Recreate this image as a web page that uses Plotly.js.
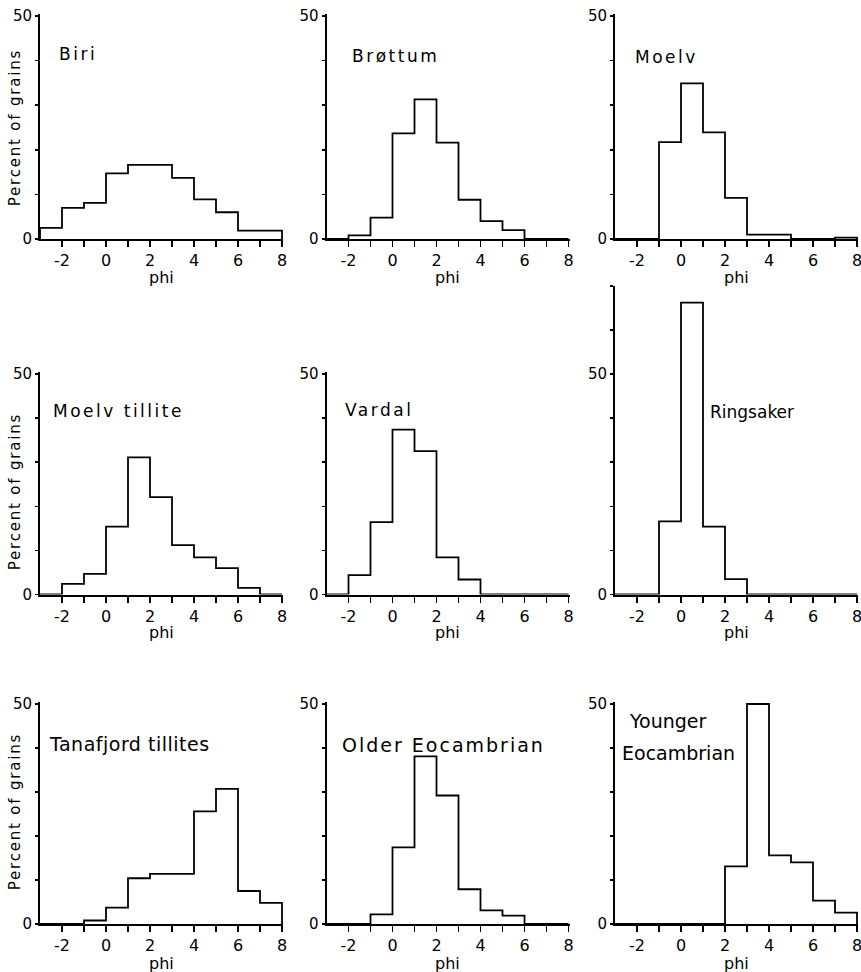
<!DOCTYPE html>
<html>
<head>
<meta charset="utf-8">
<script src="https://cdn.plot.ly/plotly-3.0.1.min.js"></script>
<style>
  html, body { margin: 0; padding: 0; background: #fff; }
  #chart { width: 861px; height: 972px; }
</style>
</head>
<body>
<div id="chart"></div>
<script>
// ---------- DATA ----------
// left edges of the 1-phi size classes
const phiEdges = [-3, -2, -1, 0, 1, 2, 3, 4, 5, 6, 7];
const phiMax = 8;
const xTickVals = [-2, -1, 0, 1, 2, 3, 4, 5, 6, 7, 8];
const xTickText = ['-2', '', '0', '', '2', '', '4', '', '6', '', '8'];
const panelNames = ['Biri', 'Brøttum', 'Moelv', 'Moelv tillite', 'Vardal', 'Ringsaker',
                    'Tanafjord tillites', 'Older Eocambrian', 'Younger Eocambrian'];
// percent of grains in each class
const biri         = [2.5, 7.0, 8.1, 14.7, 16.6, 16.6, 13.7, 8.9, 6.0, 1.9, 1.9];
const brottum      = [0, 0.8, 4.8, 23.7, 31.3, 21.6, 8.8, 4.0, 2.0, 0, 0];
const moelv        = [0, 0, 21.7, 34.9, 23.9, 9.2, 1.0, 1.0, 0, 0, 0.3];
const moelvTillite = [0, 2.4, 4.7, 15.4, 31.1, 22.1, 11.2, 8.4, 6.0, 1.5, 0];
const vardal       = [0, 4.4, 16.4, 37.4, 32.5, 8.4, 3.4, 0, 0, 0, 0];
const ringsaker    = [0, 0, 16.6, 66.2, 15.4, 3.5, 0, 0, 0, 0, 0];
const tanafjord    = [0, 0, 0.8, 3.7, 10.4, 11.4, 11.4, 25.6, 30.7, 7.5, 4.8];
const olderEo      = [0, 0, 2.2, 17.4, 38.1, 29.2, 7.9, 3.1, 1.9, 0, 0];
const youngerEo    = [0, 0, 0, 0, 0, 13.1, 50, 15.6, 14.0, 5.3, 2.6];
const yTop         = [50, 50, 50, 50, 50, 70, 50, 50, 50];
const yAxisTitle = 'Percent of grains';
const xAxisTitle = 'phi';

// ---------- LAYOUT GEOMETRY (pixels) ----------
const W = 861, H = 972;
const FONT = 'DejaVu Sans, sans-serif';
const colGeom = [[40, 22], [326.5, 22], [615, 22]];        // px of x=-3, px per phi
const rowGeom = [[239, 44.6], [594.5, 44.1], [924, 44]];    // px of y=0, px per 10 %
const series = [biri, brottum, moelv, moelvTillite, vardal, ringsaker, tanafjord, olderEo, youngerEo];

const px2x = p => p / W;
const px2y = p => 1 - p / H;

const traces = [];
const layout = {
  width: W, height: H,
  margin: {l: 0, r: 0, t: 0, b: 0},
  paper_bgcolor: '#fff', plot_bgcolor: 'rgba(0,0,0,0)',
  showlegend: false,
  font: {family: FONT, color: '#000'},
  annotations: []
};

series.forEach((vals, i) => {
  const n = i + 1;
  const row = Math.floor(i / 3), col = i % 3;
  const [x0, sx] = colGeom[col];
  const [y0, sy] = rowGeom[row];
  const xr = [-3, phiMax + 0.06];
  const yr = [0, yTop[i] === 50 ? 50.5 : yTop[i]];
  const xs = [phiEdges[0]].concat(phiEdges, [phiMax, phiMax]);
  const ys = [0].concat(vals, [vals[vals.length - 1], 0]);
  traces.push({
    type: 'scatter', mode: 'lines', x: xs, y: ys,
    line: {shape: 'hv', color: '#000', width: 1.8},
    xaxis: 'x' + n, yaxis: 'y' + n, hoverinfo: 'skip', showlegend: false
  });
  const yt = [];
  for (let v = 0; v <= yTop[i]; v += 10) yt.push(v);
  const ytt = yt.map(v => (v === 0 || v === 50) ? String(v) : '');
  layout['xaxis' + n] = {
    domain: [px2x(x0), px2x(x0 + (xr[1] - xr[0]) * sx)],
    range: xr, anchor: 'y' + n,
    showline: true, linecolor: '#000', linewidth: 2,
    ticks: 'outside', ticklen: 6, tickwidth: 1.5, tickcolor: '#000',
    tickmode: 'array', tickvals: xTickVals, ticktext: xTickText,
    ticklabeloverflow: 'allow',
    tickfont: {family: FONT, size: 16, color: '#000'},
    showgrid: false, zeroline: false, fixedrange: true
  };
  layout['yaxis' + n] = {
    domain: [px2y(y0), px2y(y0 - yr[1] * sy / 10)],
    range: yr, anchor: 'x' + n,
    showline: true, linecolor: '#000', linewidth: 2,
    ticks: 'outside', ticklen: 3, tickwidth: 1.5, tickcolor: '#000',
    tickmode: 'array', tickvals: yt, ticktext: ytt,
    ticklabeloverflow: 'allow',
    tickfont: {family: FONT, size: 15, color: '#000'},
    showgrid: false, zeroline: false, fixedrange: true
  };
  // phi label under each panel
  const phiY = [277, 632, 963][row];
  layout.annotations.push({
    xref: 'paper', yref: 'paper', x: px2x(x0 + 5.5 * sx), y: px2y(phiY),
    xanchor: 'center', yanchor: 'middle', showarrow: false,
    text: xAxisTitle, font: {family: FONT, size: 16, color: '#000'}
  });
});

// panel names: [text, xpx, ypx, size, letterSpacing]
const titlePos = [
  [panelNames[0], 57, 54, 17, 2.5],
  [panelNames[1], 349.5, 56, 17, 2.5],
  [panelNames[2], 633, 57, 17, 2.5],
  [panelNames[3], 51, 411, 17, 2.5],
  [panelNames[4], 343, 410, 17, 2.5],
  [panelNames[5], 708, 412, 17, 0],
  [panelNames[6], 47, 744, 19, 0.5],
  [panelNames[7], 340, 745, 19, 2],
  [panelNames[8].split(' ')[0], 627, 721, 19, 0],
  [panelNames[8].split(' ')[1], 620, 753, 19, 0]
];
const spacing = {};
titlePos.forEach(([t, x, y, s, ls]) => {
  spacing[layout.annotations.length] = ls;
  layout.annotations.push({
    xref: 'paper', yref: 'paper', x: px2x(x), y: px2y(y),
    xanchor: 'left', yanchor: 'middle', align: 'left', showarrow: false,
    text: t, font: {family: FONT, size: s, color: '#000'}
  });
});
// y-axis titles for the left column
[128, 492, 812].forEach(y => {
  spacing[layout.annotations.length] = 1.8;
  layout.annotations.push({
    xref: 'paper', yref: 'paper', x: px2x(15), y: px2y(y),
    xanchor: 'center', yanchor: 'middle', textangle: -90, showarrow: false,
    text: yAxisTitle, font: {family: FONT, size: 15, color: '#000'}
  });
});

Plotly.newPlot('chart', traces, layout, {staticPlot: true, displayModeBar: false}).then(() => {
  document.querySelectorAll('g.annotation').forEach((g, k) => {
    const idx = g.getAttribute('data-index') !== null ? +g.getAttribute('data-index') : k;
    if (spacing[idx]) {
      const t = g.querySelector('text.annotation-text') || g.querySelector('text');
      if (t) t.style.letterSpacing = spacing[idx] + 'px';
    }
  });
});
</script>
</body>
</html>
